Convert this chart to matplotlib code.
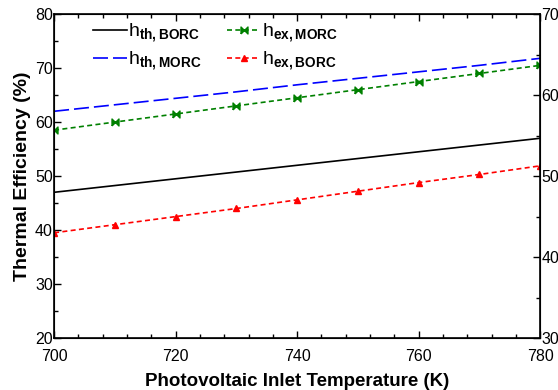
import matplotlib
matplotlib.use("Agg")
import matplotlib.pyplot as plt
from matplotlib.ticker import MultipleLocator

plt.rcParams['font.family'] = ['Liberation Sans', 'DejaVu Sans']
plt.rcParams['mathtext.fontset'] = 'custom'
plt.rcParams['mathtext.rm'] = 'Liberation Sans'
plt.rcParams['mathtext.bf'] = 'Liberation Sans:bold'

temp = [700, 710, 720, 730, 740, 750, 760, 770, 780]
th_borc = [47.0, 48.25, 49.5, 50.75, 52.0, 53.25, 54.5, 55.75, 57.0]
th_morc = [62.0, 63.2, 64.4, 65.6, 66.9, 68.1, 69.3, 70.5, 71.8]
ex_morc = [58.5, 60.0, 61.5, 63.0, 64.5, 66.0, 67.5, 69.0, 70.5]
ex_borc = [39.5, 41.0, 42.5, 44.0, 45.6, 47.2, 48.8, 50.3, 51.9]

bowtie = [(-1, -1), (-1, 1), (1, -1), (1, 1), (-1, -1)]

fig = plt.figure(figsize=(5.58, 3.9), dpi=100)
ax = fig.add_axes([0.097, 0.133, 0.871, 0.831])

ax.plot(temp, th_borc, color='black', lw=1.2, label=r'h$_{\mathbf{th,BORC}}$')
ax.plot(temp, th_morc, color='blue', lw=1.2, dashes=(9, 3), label=r'h$_{\mathbf{th,MORC}}$')
ax.plot(temp, ex_morc, color='green', lw=1.2, dashes=(3, 2), marker=bowtie, ms=5,
        label=r'h$_{\mathbf{ex,MORC}}$')
ax.plot(temp, ex_borc, color='red', lw=1.2, dashes=(3, 2), marker='^', ms=5,
        label=r'h$_{\mathbf{ex,BORC}}$')

ax.set_xlim(700, 780)
ax.set_ylim(20, 80)
ax.xaxis.set_major_locator(MultipleLocator(20))
ax.xaxis.set_minor_locator(MultipleLocator(4))
ax.yaxis.set_major_locator(MultipleLocator(10))
ax.yaxis.set_minor_locator(MultipleLocator(5))
ax.tick_params(which='both', direction='in', top=True, labelsize=11.5, width=1)
ax.tick_params(which='major', length=5)
ax.tick_params(which='minor', length=3)
ax.tick_params(axis='x', pad=8)
ax.tick_params(axis='y', pad=1)
for s in ax.spines.values():
    s.set_linewidth(1.2)

ax2 = ax.twinx()
ax2.set_ylim(30, 70)
ax2.yaxis.set_major_locator(MultipleLocator(10))
ax2.yaxis.set_minor_locator(MultipleLocator(5))
ax2.tick_params(which='both', direction='in', labelsize=11.5, width=1, pad=1)
ax2.tick_params(which='major', length=5)
ax2.tick_params(which='minor', length=3)

ax.set_xlabel('Photovoltaic Inlet Temperature (K)', fontsize=13.5, fontweight='bold', labelpad=6)
ax.set_ylabel('Thermal Efficiency (%)', fontsize=14, fontweight='bold', labelpad=3)

h, l = ax.get_legend_handles_labels()
ax.legend(h, l, ncol=2, frameon=False, fontsize=14, loc='upper left',
          bbox_to_anchor=(0.045, 1.03), handlelength=1.7, columnspacing=1.3,
          handletextpad=0.1, labelspacing=0.25)

fig.savefig('out.png', dpi=100)
